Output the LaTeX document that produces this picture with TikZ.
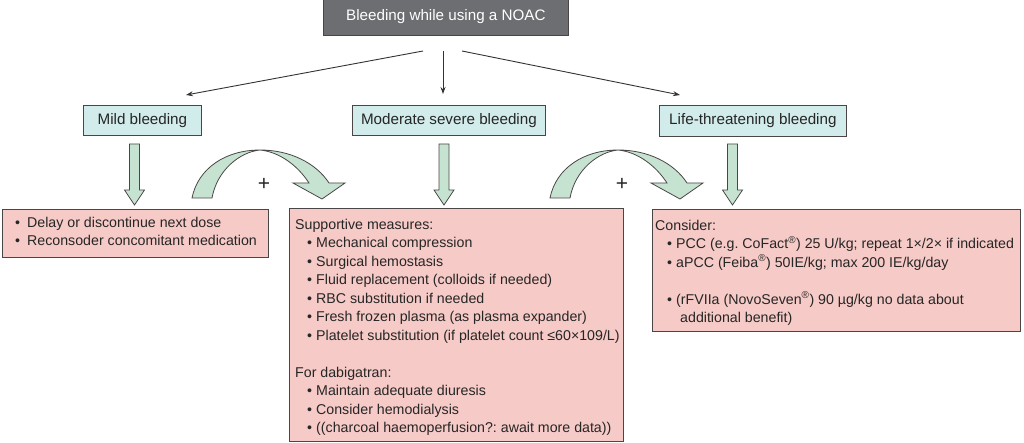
\documentclass[tikz,border=0pt]{standalone}
\usepackage{fontspec}
\setmainfont{Liberation Sans}
\usetikzlibrary{arrows.meta}
\definecolor{titlegray}{HTML}{6D6E71}
\definecolor{headcyan}{HTML}{D2EBEB}
\definecolor{actpink}{HTML}{F6CAC6}
\definecolor{arrgreen}{HTML}{C6E3D2}
\definecolor{edgegray}{HTML}{4A4546}
\definecolor{linegray}{HTML}{333333}
\newcommand\bi[2][12pt]{\hspace*{#1}\makebox[#2][l]{•}}
\newcommand\headfont{\fontsize{15.2}{18}\selectfont}
\newcommand\bodyfont{\fontsize{14.2}{18.5}\selectfont\frenchspacing}
\begin{document}
\begin{tikzpicture}[x=1pt,y=-1pt,
  titlebox/.style={draw=edgegray,fill=titlegray,text=white,font=\headfont,anchor=north west,inner sep=0pt,line width=0.8pt},
  headbox/.style={draw=edgegray,fill=headcyan,text=black!85,font=\headfont,anchor=north west,inner sep=0pt,line width=0.8pt},
  actbox/.style={draw=edgegray,fill=actpink,anchor=north west,inner sep=0pt,line width=0.9pt},
  acttext/.style={text=black!85,font=\bodyfont,anchor=north west,align=left,inner sep=0pt},
  thinarrow/.style={draw=linegray,line width=0.9pt,-{Stealth[length=7pt,width=5pt]}},
  fatarrow/.style={draw=edgegray,fill=arrgreen,line width=0.8pt,line join=miter}
]
\useasboundingbox (0,0) rectangle (1024,443);
\fill[white] (0,0) rectangle (1024,443);

% title
\node[titlebox,minimum width=245pt,minimum height=37pt] (title) at (323,-2) {Bleeding while using a NOAC};

% headers
\node[headbox,minimum width=118pt,minimum height=30pt] (mild) at (83,105) {Mild bleeding};
\node[headbox,minimum width=193pt,minimum height=30pt] (mod) at (352,105) {Moderate severe bleeding};
\node[headbox,minimum width=187pt,minimum height=31pt] (life) at (659,105) {Life-threatening bleeding};

% thin arrows
\coordinate (sl) at (423,51);
\coordinate (sm) at (443,51);
\coordinate (sr) at (462,51);
\coordinate (el) at (186,95);
\coordinate (em) at (443,94);
\coordinate (er) at (680,95);
\draw[thinarrow] (sl) -- (el);
\draw[thinarrow] (sm) -- (em);
\draw[thinarrow] (sr) -- (er);

% action boxes
\node[actbox,minimum width=266pt,minimum height=48pt] (mildact) at (2,209) {};
\node[acttext] (mildtxt) at (8,214)
 {\strut\bi[7pt]{12pt}Delay or discontinue next dose\\
  \bi[7pt]{12pt}Reconsoder concomitant medication};

\node[actbox,minimum width=334pt,minimum height=233pt] (modact) at (289,208) {};
\node[acttext] (modtxt) at (295,216)
 {\strut Supportive measures:\\
  \bi{9pt}Mechanical compression\\
  \bi{9pt}Surgical hemostasis\\
  \bi{9pt}Fluid replacement (colloids if needed)\\
  \bi{9pt}RBC substitution if needed\\
  \bi{9pt}Fresh frozen plasma (as plasma expander)\\
  \bi{9pt}Platelet substitution (if platelet count ≤60×109/L)\\
  \strut\\
  For dabigatran:\\
  \bi{9pt}Maintain adequate diuresis\\
  \bi{9pt}Consider hemodialysis\\
  \bi{9pt}((charcoal haemoperfusion?: await more data))};

\node[actbox,minimum width=368pt,minimum height=122pt] (lifeact) at (652,209) {};
\node[acttext] (lifetxt) at (655,217)
 {\strut Consider:\\
  \bi{9pt}PCC (e.g. CoFact\textsuperscript{®}) 25 U/kg; repeat 1×/2× if indicated\\
  \bi{9pt}aPCC (Feiba\textsuperscript{®}) 50IE/kg; max 200 IE/kg/day\\
  \strut\\
  \bi{9pt}(rFVIIa (NovoSeven\textsuperscript{®}) 90 µg/kg no data about\\
  \hspace*{25pt}additional benefit)};

% fat down arrows
\foreach \c/\nm in {134.5/dm, 444/dmod, 732.5/dl}{
  \draw[fatarrow] (\c-5,144) -- (\c+5,144) -- (\c+5,190) -- (\c+10,190) -- (\c,205) -- (\c-10,190) -- (\c-5,190) -- cycle;
}

% curved "+" arrows
\foreach \s/\nm in {0/pa, 358/pb}{
  \begin{scope}[shift={(\s,0)}]
  \draw[fatarrow] (192,198) .. controls (198,168) and (226,150) .. (260,150)
     .. controls (290,150) and (316,163) .. (329,183)
     -- (345,183) -- (322,199) -- (293,183) -- (309,183)
     .. controls (298,166) and (280,152) .. (260,150)
     .. controls (240,152) and (217,170) .. (212,198) -- cycle;
  \node[font=\fontsize{21}{21}\selectfont,text=black!85] (\nm) at (264,184) {+};
  \end{scope}
}
\end{tikzpicture}
\end{document}
